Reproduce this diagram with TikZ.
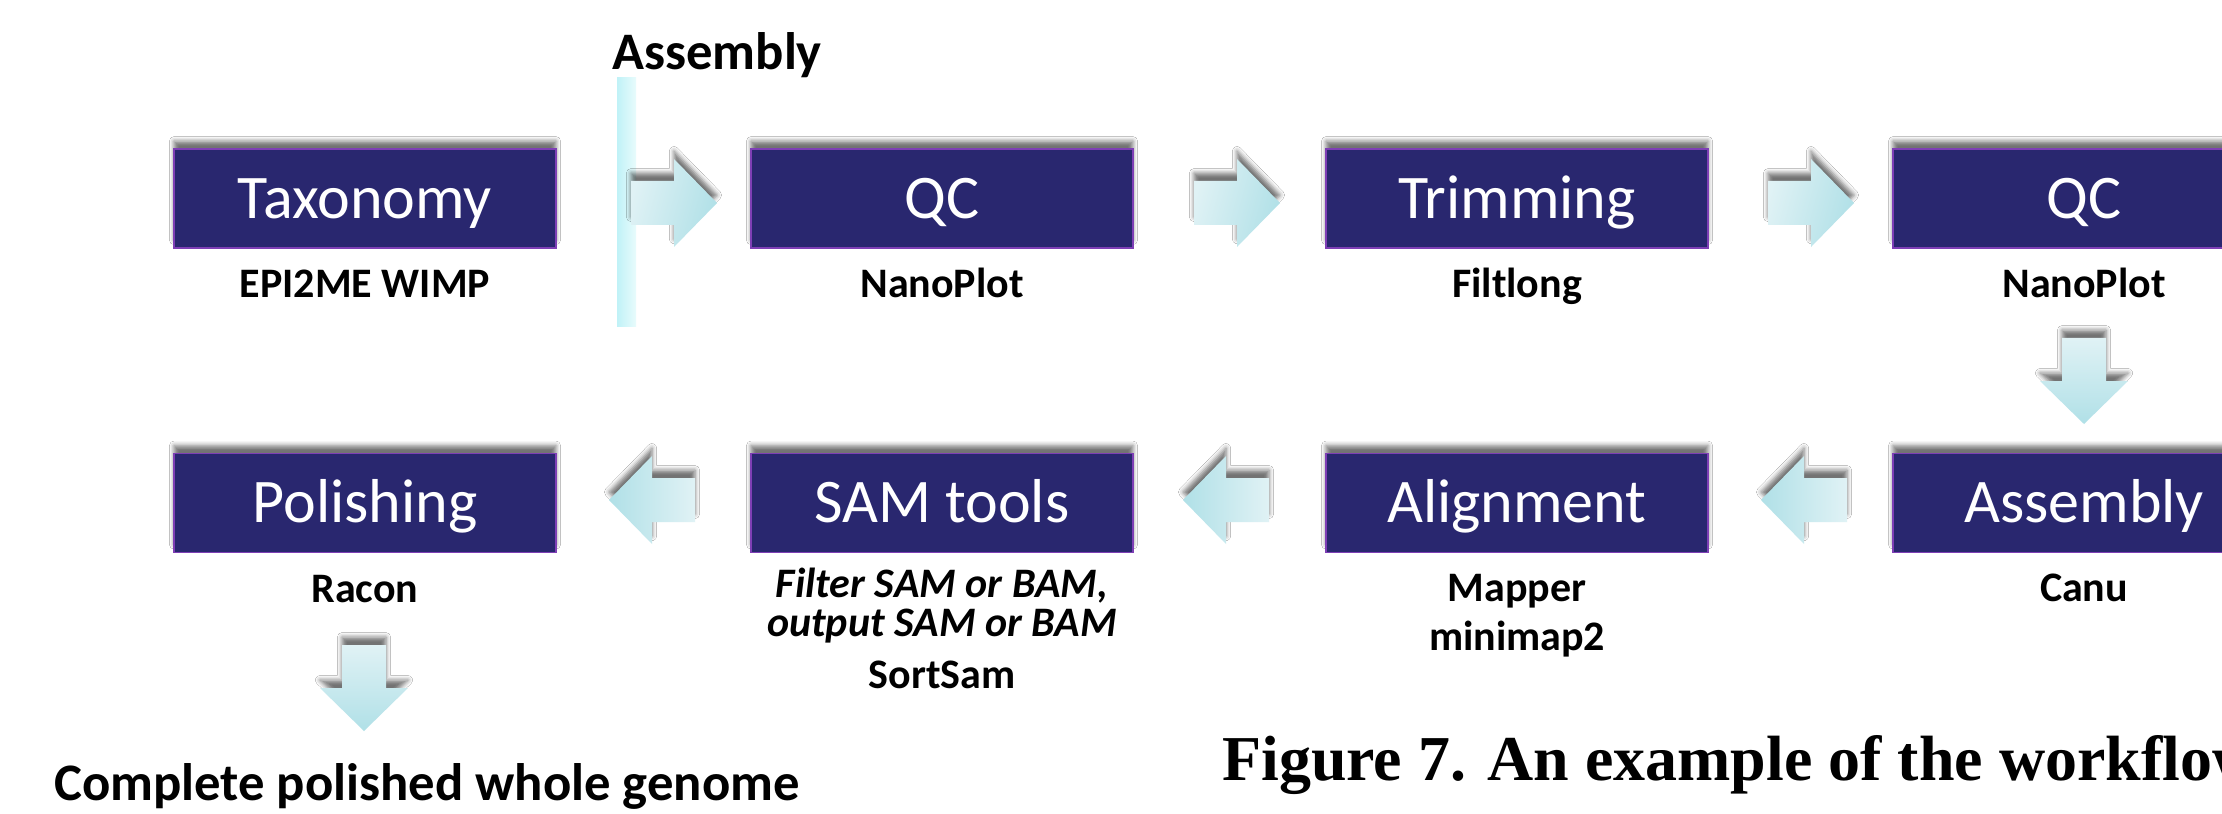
\documentclass[tikz,border=0pt]{standalone}
\usepackage{fontspec}
\setmainfont{Carlito}
\newfontfamily\capfont{Liberation Serif}
\usetikzlibrary{calc,shadows.blur}
\definecolor{boxfill}{HTML}{29276F}
\definecolor{boxline}{HTML}{7E3FB5}
\definecolor{arrlight}{HTML}{E0F2F5}
\definecolor{arrdark}{HTML}{B0E0E7}
\definecolor{barleft}{HTML}{C0F2F7}
\definecolor{barright}{HTML}{E8FBFC}
% block arrows: #1 = tail coordinate, #2 = style
\newcommand\rblock[2]{\path[#2] ($(#1)+(0,-22)$) -- ++(43,0) -- ++(0,-22) -- ++(43,44) -- ++(-43,44) -- ++(0,-22) -- ++(-43,0) -- cycle;}
\newcommand\lblock[2]{\path[#2] ($(#1)+(0,-22)$) -- ++(-43,0) -- ++(0,-22) -- ++(-43,44) -- ++(43,44) -- ++(0,-22) -- ++(43,0) -- cycle;}
\newcommand\dblock[2]{\path[#2] ($(#1)+(-22,0)$) -- ++(0,43) -- ++(-22,0) -- ++(44,43) -- ++(44,-43) -- ++(-22,0) -- ++(0,-43) -- cycle;}
\begin{document}
\begin{tikzpicture}[x=0.02cm,y=-0.02cm,
  softshadow/.style={blur shadow={shadow xshift=0pt, shadow yshift=4.5pt, shadow blur radius=2.6pt, shadow opacity=55}},
  stepbox/.style={draw=boxline, line width=1pt, fill=boxfill, text=white,
    minimum width=7.64cm, minimum height=1.98cm, inner sep=0pt,
    font=\fontsize{35.3}{42}\selectfont, text height=22.7pt, text depth=0pt, softshadow},
  tool/.style={font=\bfseries\fontsize{23.9}{28}\selectfont, anchor=base, inner sep=0pt},
  itool/.style={tool, font=\bfseries\itshape\fontsize{23.9}{28}\selectfont},
  head/.style={font=\bfseries\fontsize{30}{34}\selectfont, anchor=base west, inner sep=0pt},
  rarr/.style={left color=arrlight, right color=arrdark, shading angle=75, softshadow},
  larr/.style={left color=arrdark, right color=arrlight, softshadow},
  darr/.style={top color=arrlight, bottom color=arrdark, softshadow}
]
\useasboundingbox (0,0) rectangle (2222,814);
\clip (0,0) rectangle (2222,814);
\fill[white] (0,0) rectangle (2222,814);

% title and divider
\node[head] (title) at (612,70) {Assembly};
\shade[left color=barleft, right color=barright] (617,78) rectangle (636,327);

% boxes
\node[stepbox] (tax)  at (365,198.5)  {Taxonomy};
\node[stepbox] (qc1)  at (942,198.5)  {QC};
\node[stepbox] (trim) at (1517,198.5) {Trimming};
\node[stepbox] (qc2)  at (2084,198.5) {QC};
\node[stepbox] (pol)  at (365,503)    {Polishing};
\node[stepbox] (sam)  at (942,503)    {SAM tools};
\node[stepbox] (aln)  at (1517,503)   {Alignment};
\node[stepbox] (asm)  at (2084,503)   {Assembly};

% tool labels
\node[tool] (l1) at (365,297)  {EPI2ME WIMP};
\node[tool] (l2) at (942,297)  {NanoPlot};
\node[tool] (l3) at (1517,297) {Filtlong};
\node[tool] (l4) at (2084,297) {NanoPlot};
\node[tool] (l5) at (2084,601) {Canu};
\node[tool] (l6) at (1517,601) {Mapper};
\node[tool] (l7) at (1517,650) {minimap2};
\node[itool] (l8) at (942,597) {Filter SAM or BAM,};
\node[itool] (l9) at (942,636) {output SAM or BAM};
\node[tool] (l10) at (942,688) {SortSam};
\node[tool] (l11) at (365,602) {Racon};

% arrow tails
\coordinate (a1) at (631,203);
\coordinate (a2) at (1194,203);
\coordinate (a3) at (1768,203);
\coordinate (d1) at (2084,338);
\coordinate (b1) at (1847,500);
\coordinate (b2) at (1269,500);
\coordinate (b3) at (695,500);
\coordinate (d2) at (364,645);
\rblock{a1}{rarr}
\rblock{a2}{rarr}
\rblock{a3}{rarr}
\dblock{d1}{darr}
\lblock{b1}{larr}
\lblock{b2}{larr}
\lblock{b3}{larr}
\dblock{d2}{darr}

% bottom texts
\node[head] (done) at (54,800) {Complete polished whole genome};
\node[font=\capfont\bfseries\fontsize{36.4}{42}\selectfont, anchor=base west, inner sep=0pt] (cap) at (1222,780) {Figure 7. An example of the workflow};
\end{tikzpicture}
\end{document}
